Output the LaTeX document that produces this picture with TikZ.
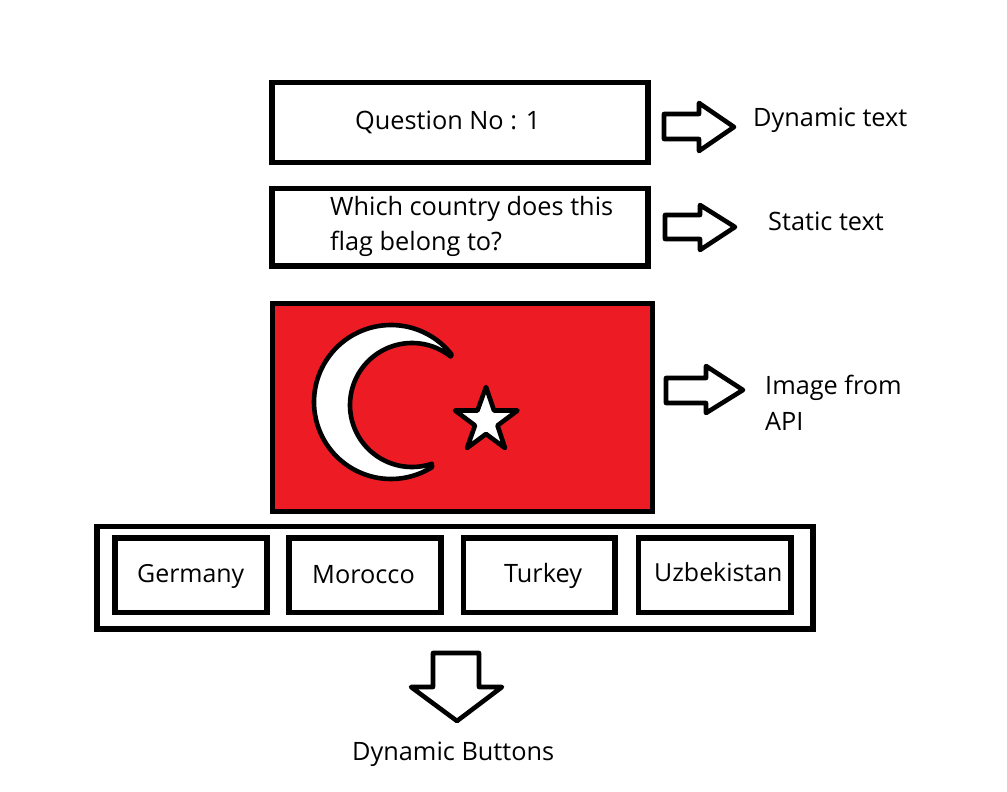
\documentclass[tikz,border=0pt]{standalone}
\usepackage{fontspec}
\setmainfont{Open Sans}
\definecolor{flagred}{HTML}{ED1C24}
\tikzset{
  x=1pt,y=-1pt,
  box/.style={draw=black,line width=5.5pt,fill=white,line join=miter},
  blockarrow/.style={draw=black,line width=4.6pt,fill=white,line join=round,line cap=round},
  emblem/.style={draw=black,line width=4.6pt,fill=white,line join=round},
  lbl/.style={anchor=base west,inner sep=0pt,font=\fontsize{25.3}{25.3}\selectfont,text=black},
  btnlbl/.style={lbl,font=\fontsize{24.9}{24.9}\selectfont}
}
\begin{document}
\begin{tikzpicture}
\useasboundingbox (0,0) rectangle (1007,792);
\fill[white] (0,0) rectangle (1007,792);
% top boxes
\draw[box] (272,82.5) rectangle (648,162.5);
\draw[box] (272,188.5) rectangle (648,266);
% flag
\draw[box,fill=flagred] (272.5,303.5) rectangle (652.5,511.5);
\draw[emblem] plot[domain=-38:-302.2,samples=90] ({391+77*cos(\x)},{402+77*sin(\x)})
  -- plot[domain=-288.7:-51.5,samples=90] ({412+62*cos(\x)},{405+62*sin(\x)}) -- cycle;
\draw[emblem] (486,387) -- (494,410.5) -- (517.5,410.5) -- (497.5,425.5) -- (505,448)
  -- (486,434) -- (467,448) -- (475,425.5) -- (455,410.5) -- (477.5,410.5) -- cycle;
% button panel
\draw[box] (97,526.5) rectangle (813,629);
\draw[box] (115,538) rectangle (267,612.5);
\draw[box] (289,538) rectangle (441,612.5);
\draw[box] (463.5,538) rectangle (615,612.5);
\draw[box] (638.5,538) rectangle (791,612.5);
% block arrows
\draw[blockarrow] (664,114) -- (699,114) -- (699,103) -- (734,127) -- (699,151) -- (699,139) -- (664,139) -- cycle;
\draw[blockarrow] (665,215) -- (700,215) -- (700,205) -- (735,227) -- (700,250) -- (700,239) -- (665,239) -- cycle;
\draw[blockarrow] (666,378) -- (706,378) -- (706,366) -- (743,390) -- (706,413) -- (706,403) -- (666,403) -- cycle;
\draw[blockarrow] (433,653) -- (479,653) -- (479,687) -- (502,687) -- (457,721) -- (411,687) -- (433,687) -- cycle;
% labels
\node[lbl] (q) at (355,129) {Question No : 1};
\node[lbl] (w1) at (330,215) {Which country does this};
\node[lbl] (w2) at (330,250) {flag belong to?};
\node[lbl] (d) at (753,126) {Dynamic text};
\node[lbl] (s) at (768,230) {Static text};
\node[lbl] (i1) at (765,394) {Image from};
\node[lbl] (i2) at (765,430) {API};
\node[btnlbl] (b1) at (137,582) {Germany};
\node[lbl] (b2) at (312,583) {Morocco};
\node[lbl] (b3) at (504,582) {Turkey};
\node[btnlbl] (b4) at (654,581) {Uzbekistan};
\node[lbl] (db) at (352,760) {Dynamic Buttons};
\end{tikzpicture}
\end{document}
